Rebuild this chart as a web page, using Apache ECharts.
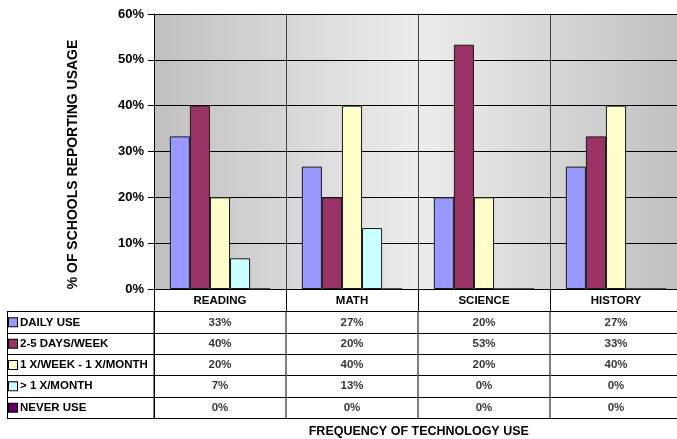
<!DOCTYPE html>
<html>
<head>
<meta charset="utf-8">
<script src="https://cdn.jsdelivr.net/npm/echarts@6/dist/echarts.min.js"></script>
<style>
  html, body { margin: 0; padding: 0; background: #fff; }
  #chart { width: 677px; height: 439px; }
</style>
</head>
<body>
<div id="chart"></div>
<script>
// Subjects along the category axis
const subjects = ['READING', 'MATH', 'SCIENCE', 'HISTORY'];
// Usage frequency groups (legend / table rows)
const frequencies = ['DAILY USE', '2-5 DAYS/WEEK', '1 X/WEEK - 1 X/MONTH', '> 1 X/MONTH', 'NEVER USE'];
// Percent of schools per subject for each frequency
const dailyUse        = [33.3, 26.7, 20.0, 26.7];
const twoToFiveDays   = [40.0, 20.0, 53.3, 33.3];
const weeklyToMonthly = [20.0, 40.0, 20.0, 40.0];
const lessThanMonthly = [6.7, 13.3, 0, 0];
const neverUse        = [0, 0, 0, 0];
const colors = ['#9999FF', '#993366', '#FFFFCC', '#CCFFFF', '#660066'];

const allSeries = [dailyUse, twoToFiveDays, weeklyToMonthly, lessThanMonthly, neverUse];
const FONT = 'Liberation Sans, Arial, sans-serif';

// legend squares for the table's first column
const rich = {};
colors.forEach((c, i) => {
  rich['k' + i] = { width: 8, height: 8, backgroundColor: c, borderColor: '#000', borderWidth: 1 };
});
rich.t = { fontFamily: FONT, fontWeight: 'bold', fontSize: 11.5, color: '#000', padding: [0, 0, 0, 3] };

const barSeries = frequencies.map((name, i) => ({
  name: name,
  type: 'bar',
  xAxisIndex: 0,
  yAxisIndex: 0,
  data: allSeries[i],
  barGap: 0,
  barCategoryGap: '24%',
  itemStyle: { color: colors[i], borderColor: '#1a1a1a', borderWidth: 1 }
}));

// table cells: one labelled point per (subject, frequency)
const cellData = [];
allSeries.forEach((vals, r) => {
  vals.forEach((v, c) => cellData.push([c, r, v]));
});

const option = {
  animation: false,
  backgroundColor: '#fff',
  grid: [
    {
      left: 154, top: 14, width: 528, height: 275,
      outerBoundsMode: 'none',
      show: true, borderWidth: 0,
      backgroundColor: new echarts.graphic.LinearGradient(0, 0, 1, 0, [
        { offset: 0, color: '#c0c0c0' },
        { offset: 0.5, color: '#ededed' },
        { offset: 1, color: '#c0c0c0' }
      ])
    },
    {
      left: 154, top: 311.7, width: 528, height: 106.6,
      outerBoundsMode: 'none',
      show: false
    }
  ],
  xAxis: [
    {
      type: 'category', gridIndex: 0, data: subjects,
      axisLine: { show: true, lineStyle: { color: '#000', width: 1 } },
      axisTick: { show: true, length: 22.7, lineStyle: { color: '#000', width: 1 } },
      axisLabel: { fontFamily: FONT, fontWeight: 'bold', fontSize: 11.5, color: '#000', margin: 6 },
      splitLine: { show: true, lineStyle: { color: '#404040', width: 1 } }
    },
    {
      type: 'category', gridIndex: 1, data: subjects, position: 'top',
      axisLine: { show: true, lineStyle: { color: '#000', width: 1 } },
      axisTick: { show: false },
      axisLabel: { show: false },
      splitLine: { show: true, lineStyle: { color: '#555', width: 1.5 } }
    }
  ],
  yAxis: [
    {
      type: 'value', gridIndex: 0, min: 0, max: 60, interval: 10,
      axisLine: { show: true, lineStyle: { color: '#000', width: 1 } },
      axisTick: { show: true, length: 6, lineStyle: { color: '#000' } },
      axisLabel: { formatter: '{value}%', fontFamily: FONT, fontWeight: 'bold', fontSize: 13, color: '#000', margin: 10 },
      splitLine: { show: true, lineStyle: { color: '#000', width: 1 } }
    },
    {
      type: 'category', gridIndex: 1, data: frequencies, inverse: true,
      axisLine: { show: true, lineStyle: { color: '#000', width: 1 } },
      axisTick: { show: true, length: 147, lineStyle: { color: '#000', width: 1 } },
      axisLabel: {
        align: 'left', margin: 145,
        formatter: (val, idx) => '{k' + idx + '|}{t|' + val + '}',
        rich: rich
      },
      splitLine: { show: true, lineStyle: { color: '#000', width: 1 } }
    }
  ],
  series: barSeries.concat([{
    type: 'scatter',
    xAxisIndex: 1,
    yAxisIndex: 1,
    symbolSize: 0,
    silent: true,
    data: cellData,
    label: {
      show: true, position: 'inside',
      formatter: p => Math.round(p.value[2]) + '%',
      fontFamily: FONT, fontWeight: 'bold', fontSize: 11.5, color: '#000'
    }
  }]),
  graphic: [
    {
      type: 'line', silent: true,
      shape: { x1: 7.5, y1: 311.7, x2: 7.5, y2: 418.3 },
      style: { stroke: '#000', lineWidth: 1 }
    },
    {
      type: 'text', x: 73.5, y: 164.5, rotation: Math.PI / 2,
      style: {
        text: '% OF SCHOOLS REPORTING USAGE',
        font: 'bold 14px ' + FONT, fill: '#000',
        align: 'center', verticalAlign: 'middle'
      }
    },
    {
      type: 'text', x: 418.8, y: 431.7,
      style: {
        text: 'FREQUENCY OF TECHNOLOGY USE',
        font: 'bold 12.5px ' + FONT, fill: '#000',
        align: 'center', verticalAlign: 'middle'
      }
    }
  ]
};

const chart = echarts.init(document.getElementById('chart'), null, { renderer: 'canvas' });
chart.setOption(option);
</script>
</body>
</html>
